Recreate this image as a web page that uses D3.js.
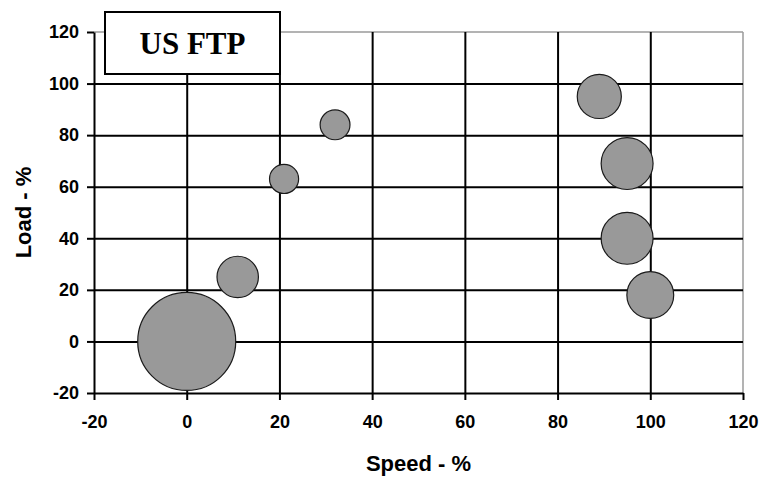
<!DOCTYPE html>
<html>
<head>
<meta charset="utf-8">
<script src="https://cdn.jsdelivr.net/npm/d3@7"></script>
<style>
  html, body { margin: 0; padding: 0; background: #fff; }
  svg { display: block; }
  .tick text { font-family: "Liberation Sans", Arial, sans-serif; font-weight: bold; font-size: 18px; fill: #000; }
</style>
</head>
<body>
<svg id="chart" width="763" height="478"></svg>
<script>
// Operating modes: engine speed (%), load (%), and relative time weight (bubble area)
const speed  = [0, 11, 21, 32, 89, 95, 95, 100];
const load   = [0, 25, 63, 84, 95, 69, 40, 18];
const weight = [42, 7.5, 3.7, 3.9, 8.5, 11.8, 11.8, 9.6];

const tickValues = [-20, 0, 20, 40, 60, 80, 100, 120];
const gridValues = [0, 20, 40, 60, 80, 100];
const titleText = "US FTP";
const xLabel = "Speed - %";
const yLabel = "Load - %";

const svg = d3.select("#chart");
const plotLeft = 94, plotRight = 743, plotTop = 32, plotBottom = 393;

const x = d3.scaleLinear().domain([-20, 120]).range([plotLeft, plotRight]);
const y = d3.scaleLinear().domain([-20, 120]).range([plotBottom, plotTop]);
const r = d3.scaleSqrt().domain([0, d3.max(weight)]).range([0, 49]);

// plain hyphen-minus for negative tick labels
const fmt = d => String(d);

// plot frame: light top and right edges
svg.append("line").attr("x1", plotLeft).attr("x2", plotRight).attr("y1", plotTop).attr("y2", plotTop)
  .attr("stroke", "#9a9a9a").attr("stroke-width", 1.5);
svg.append("line").attr("x1", plotRight).attr("x2", plotRight).attr("y1", plotTop).attr("y2", plotBottom)
  .attr("stroke", "#9a9a9a").attr("stroke-width", 1.5);

// horizontal gridlines
svg.append("g").attr("transform", `translate(${plotLeft},0)`)
  .call(d3.axisLeft(y).tickValues(gridValues).tickSize(-(plotRight - plotLeft)).tickFormat(""))
  .call(g => g.select(".domain").remove())
  .call(g => g.selectAll("line").attr("stroke", "#000").attr("stroke-width", 2));

// vertical gridlines
svg.append("g").attr("transform", `translate(0,${plotBottom})`)
  .call(d3.axisBottom(x).tickValues(gridValues).tickSize(-(plotBottom - plotTop)).tickFormat(""))
  .call(g => g.select(".domain").remove())
  .call(g => g.selectAll("line").attr("stroke", "#000").attr("stroke-width", 2));

// axes
svg.append("g").attr("transform", `translate(${plotLeft},0)`)
  .call(d3.axisLeft(y).tickValues(tickValues).tickFormat(fmt).tickSize(7).tickSizeOuter(0).tickPadding(8))
  .call(g => g.select(".domain").attr("stroke", "#000").attr("stroke-width", 2))
  .call(g => g.selectAll(".tick line").attr("stroke", "#000").attr("stroke-width", 2));

svg.append("g").attr("transform", `translate(0,${plotBottom})`)
  .call(d3.axisBottom(x).tickValues(tickValues).tickFormat(fmt).tickSize(7).tickSizeOuter(0).tickPadding(15))
  .call(g => g.select(".domain").attr("stroke", "#000").attr("stroke-width", 2))
  .call(g => g.selectAll(".tick line").attr("stroke", "#000").attr("stroke-width", 2));

// bubbles, largest first so smaller ones stay visible
const modes = speed.map((s, i) => ({ s, l: load[i], w: weight[i] }))
  .sort((a, b) => b.w - a.w);
svg.append("g").selectAll("circle").data(modes).join("circle")
  .attr("cx", d => x(d.s))
  .attr("cy", d => y(d.l))
  .attr("r", d => r(d.w))
  .attr("fill", "#999999")
  .attr("stroke", "#1a1a1a")
  .attr("stroke-width", 1.2);

// title box
svg.append("rect").attr("x", 105).attr("y", 12).attr("width", 175).attr("height", 62)
  .attr("fill", "#fff").attr("stroke", "#000").attr("stroke-width", 2);
svg.append("text").attr("x", 192.5).attr("y", 53.5).attr("text-anchor", "middle")
  .attr("font-family", "'Liberation Serif', 'Times New Roman', serif")
  .attr("font-weight", "bold").attr("font-size", 31).attr("fill", "#000")
  .text(titleText);

// axis titles
svg.append("text").attr("x", (plotLeft + plotRight) / 2).attr("y", 471).attr("text-anchor", "middle")
  .attr("font-family", "'Liberation Sans', Arial, sans-serif").attr("font-weight", "bold")
  .attr("font-size", 22).attr("fill", "#000").text(xLabel);
svg.append("text").attr("transform", `translate(31,${(plotTop + plotBottom) / 2}) rotate(-90)`)
  .attr("text-anchor", "middle")
  .attr("font-family", "'Liberation Sans', Arial, sans-serif").attr("font-weight", "bold")
  .attr("font-size", 22).attr("fill", "#000").text(yLabel);
</script>
</body>
</html>
